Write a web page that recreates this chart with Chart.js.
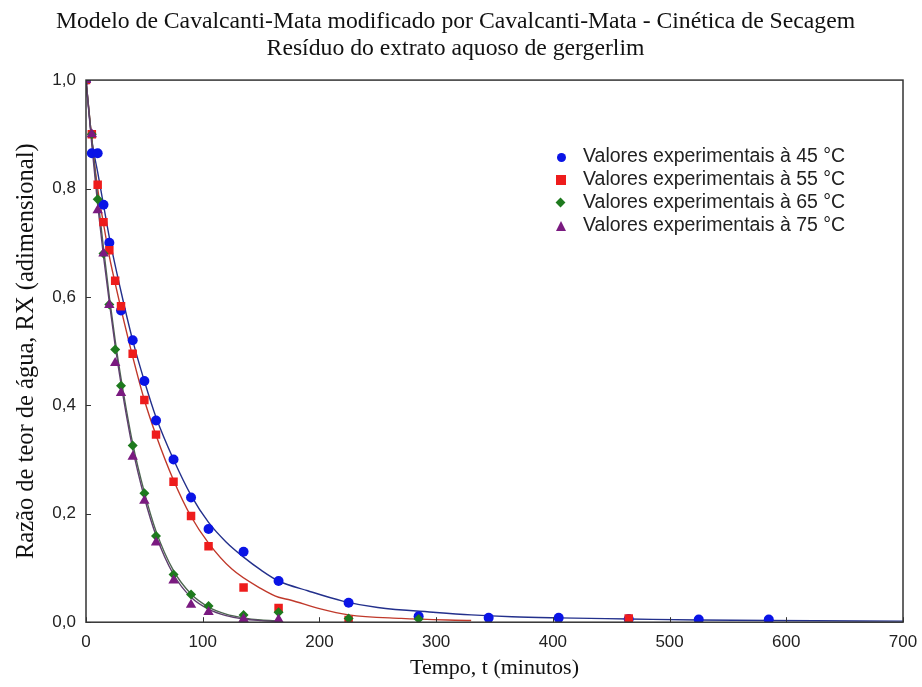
<!DOCTYPE html>
<html>
<head>
<meta charset="utf-8">
<script src="https://cdn.jsdelivr.net/npm/chart.js@4"></script>
<style>
  html, body { margin: 0; padding: 0; background: #fff; }
  #wrap { position: relative; width: 922px; height: 687px; }
  #legend { position: absolute; left: 553px; top: 144px; font-family: "Liberation Sans", Arial, sans-serif; font-size: 19.5px; color: #222; }
  #legend div { height: 23px; line-height: 23px; white-space: nowrap; }
  #legend span.m { display: inline-block; width: 30px; position: relative; height: 12px; vertical-align: middle; }
</style>
</head>
<body>
<div id="wrap">
  <canvas id="chart" width="922" height="687"></canvas>
  <div id="legend"></div>
</div>
<script>
// 軸の目盛
const xTicks = [0, 100, 200, 300, 400, 500, 600, 700];
const yTicks = [0, 0.2, 0.4, 0.6, 0.8, 1.0];

// 実験値 (時間, RX)
const t45 = [0, 5, 10, 15, 20, 30, 40, 50, 60, 75, 90, 105, 135, 165, 225, 285, 345, 405, 465, 525, 585];
const rx45 = [1.0, 0.865, 0.865, 0.77, 0.70, 0.575, 0.52, 0.445, 0.372, 0.30, 0.23, 0.172, 0.13, 0.076, 0.036, 0.011, 0.008, 0.008, 0.006, 0.005, 0.005];
const t55 = [0, 5, 10, 15, 20, 25, 30, 40, 50, 60, 75, 90, 105, 135, 165, 225, 465];
const rx55 = [1.0, 0.90, 0.807, 0.738, 0.686, 0.63, 0.583, 0.495, 0.41, 0.346, 0.259, 0.196, 0.14, 0.064, 0.026, 0.004, 0.007];
const t65 = [0, 5, 10, 15, 20, 25, 30, 40, 50, 60, 75, 90, 105, 135, 165, 225, 285];
const rx65 = [1.0, 0.90, 0.78, 0.68, 0.586, 0.503, 0.436, 0.326, 0.238, 0.159, 0.088, 0.051, 0.030, 0.0135, 0.0185, 0.007, 0.006];
const t75 = [0, 5, 10, 15, 20, 25, 30, 40, 50, 60, 75, 90, 105, 135, 165];
const rx75 = [1.0, 0.90, 0.76, 0.68, 0.585, 0.478, 0.423, 0.305, 0.224, 0.147, 0.077, 0.032, 0.019, 0.006, 0.005];

// 模型曲線
const ct45 = [0, 5, 10, 15, 20, 30, 40, 50, 60, 75, 90, 105, 120, 135, 150, 165, 190, 220, 250, 300, 330, 365, 405, 465, 525, 585, 700];
const cv45 = [1.0, 0.89, 0.83, 0.77, 0.71, 0.61, 0.52, 0.445, 0.378, 0.30, 0.234, 0.184, 0.148, 0.12, 0.096, 0.076, 0.058, 0.039, 0.027, 0.018, 0.0135, 0.01, 0.008, 0.006, 0.004, 0.003, 0.002];
const ct55 = [0, 5, 10, 15, 20, 25, 30, 40, 50, 60, 75, 90, 105, 125, 150, 165, 175, 200, 225, 270, 330];
const cv55 = [1.0, 0.89, 0.80, 0.735, 0.675, 0.625, 0.578, 0.49, 0.41, 0.345, 0.262, 0.195, 0.146, 0.098, 0.062, 0.046, 0.041, 0.025, 0.0135, 0.007, 0.003];
const ct65 = [0, 5, 10, 15, 20, 25, 30, 40, 50, 60, 75, 90, 105, 120, 135, 150, 165];
const cv65 = [1.0, 0.89, 0.785, 0.69, 0.60, 0.52, 0.45, 0.33, 0.24, 0.168, 0.095, 0.052, 0.028, 0.015, 0.008, 0.004, 0.002];
const ct75 = [0, 5, 10, 15, 20, 25, 30, 40, 50, 60, 75, 90, 105, 120, 135, 150, 165];
const cv75 = [1.0, 0.88, 0.77, 0.675, 0.59, 0.51, 0.44, 0.32, 0.23, 0.16, 0.088, 0.046, 0.024, 0.012, 0.006, 0.003, 0.001];

const labels = [
    'Valores experimentais à 45 °C',
    'Valores experimentais à 55 °C',
    'Valores experimentais à 65 °C',
    'Valores experimentais à 75 °C'
];

function pts(xs, ys) {
    return xs.map((x, i) => ({ x: x, y: ys[i] }));
}

// 散布図の系列
function pointSet(label, xs, ys, color, style, r, order) {
    return {
        type: 'scatter', label: label, data: pts(xs, ys),
        backgroundColor: color, borderColor: color, borderWidth: 0,
        pointStyle: style, pointRadius: r, order: order
    };
}
// 曲線の系列
function curveSet(xs, ys, color, order) {
    return {
        type: 'line', label: '', data: pts(xs, ys),
        borderColor: color, borderWidth: 1.4, pointRadius: 0,
        cubicInterpolationMode: 'monotone', fill: false, order: order
    };
}

const datasets = [
    curveSet(ct45, cv45, '#23308c', 8),
    curveSet(ct55, cv55, '#c0392b', 7),
    curveSet(ct65, cv65, '#4d6650', 6),
    curveSet(ct75, cv75, '#5e3f6e', 5),
    pointSet(labels[0], t45, rx45, '#0a14e6', 'circle', 5, 3),
    pointSet(labels[1], t55, rx55, '#ee1c1c', 'rect', 6, 2),
    pointSet(labels[2], t65, rx65, '#1e7a1e', 'rectRot', 5, 1),
    pointSet(labels[3], t75, rx75, '#7a1a80', 'triangle', 6, 0)
];

// 内向きの目盛と枠線
const frame = {
    id: 'frame',
    afterDatasetsDraw(chart) {
        const { ctx, chartArea: a, scales } = chart;
        ctx.save();
        ctx.strokeStyle = '#333';
        ctx.lineWidth = 1.5;
        ctx.strokeRect(a.left, a.top, a.right - a.left, a.bottom - a.top);
        ctx.lineWidth = 1;
        xTicks.forEach(v => {
            const x = Math.round(scales.x.getPixelForValue(v)) + 0.5;
            ctx.beginPath(); ctx.moveTo(x, a.bottom); ctx.lineTo(x, a.bottom - 5); ctx.stroke();
        });
        yTicks.forEach(v => {
            const y = Math.round(scales.y.getPixelForValue(v)) + 0.5;
            ctx.beginPath(); ctx.moveTo(a.left, y); ctx.lineTo(a.left + 5, y); ctx.stroke();
        });
        ctx.restore();
    }
};

const tickFont = { family: '"Liberation Sans", Arial, sans-serif', size: 17 };
const serif = '"Liberation Serif", "Times New Roman", serif';

new Chart(document.getElementById('chart'), {
    data: { datasets: datasets },
    options: {
        responsive: false,
        animation: false,
        layout: { padding: { left: 8, right: 19, top: 0, bottom: 3 } },
        plugins: {
            legend: { display: false },
            tooltip: { enabled: false },
            title: {
                display: true,
                text: ['Modelo de Cavalcanti-Mata modificado por Cavalcanti-Mata - Cinética de Secagem', 'Resíduo do extrato aquoso de gergerlim'],
                font: { family: serif, size: 23.7, weight: 'normal', lineHeight: 1.12 },
                color: '#111',
                padding: { top: 9, bottom: 18 }
            }
        },
        scales: {
            x: {
                type: 'linear', min: 0, max: 700,
                afterBuildTicks: s => { s.ticks = xTicks.map(v => ({ value: v })); },
                ticks: { font: tickFont, color: '#222', padding: 2 },
                grid: { display: false },
                border: { display: false },
                title: { display: true, text: 'Tempo, t (minutos)', font: { family: serif, size: 22 }, color: '#111', padding: { top: 0, bottom: 3 } }
            },
            y: {
                type: 'linear', min: 0, max: 1,
                afterBuildTicks: s => { s.ticks = yTicks.map(v => ({ value: v })); },
                afterFit: s => { s.width = 78; },
                ticks: {
                    font: tickFont, color: '#222', padding: 2,
                    callback: v => v.toFixed(1).replace('.', ',')
                },
                grid: { display: false },
                border: { display: false },
                title: { display: true, text: 'Razão de teor de água, RX (adimensional)', font: { family: serif, size: 24.5 }, color: '#111', padding: { bottom: 2 } }
            }
        }
    },
    plugins: [frame]
});

// 凡例 (HTML)
const legendShapes = [
    '<span style="position:absolute;left:4px;top:2px;width:9px;height:9px;border-radius:50%;background:#0a14e6"></span>',
    '<span style="position:absolute;left:3px;top:1px;width:10px;height:10px;background:#ee1c1c"></span>',
    '<span style="position:absolute;left:4px;top:2px;width:7px;height:7px;background:#1e7a1e;transform:rotate(45deg)"></span>',
    '<span style="position:absolute;left:3px;top:1px;width:0;height:0;border-left:5px solid transparent;border-right:5px solid transparent;border-bottom:10px solid #7a1a80"></span>'
];
const legend = document.getElementById('legend');
labels.forEach((lab, i) => {
    const row = document.createElement('div');
    row.innerHTML = '<span class="m">' + legendShapes[i] + '</span>' + lab;
    legend.appendChild(row);
});
</script>
</body>
</html>
